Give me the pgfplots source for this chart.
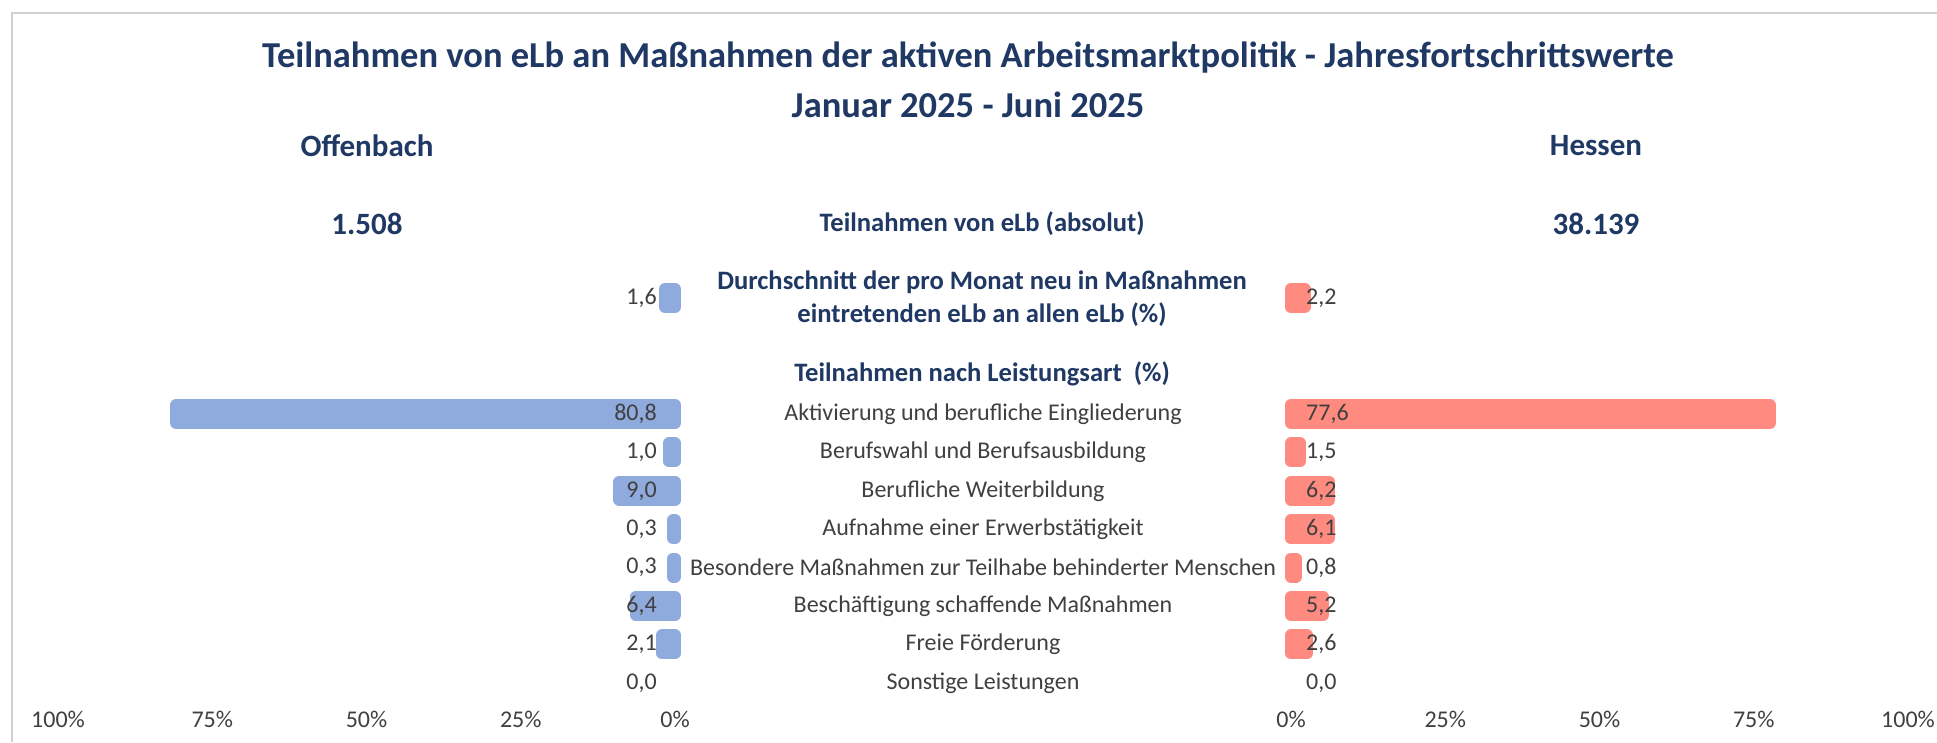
\documentclass[border=0pt]{standalone}
\usepackage{pgfplots}
\pgfplotsset{compat=1.18}
\usepackage{fontspec}
\setmainfont{Carlito}
\definecolor{navy}{HTML}{1F3864}
\definecolor{lbl}{HTML}{404040}
\definecolor{barblue}{HTML}{8FAADC}
\definecolor{barred}{HTML}{FF8A80}
\definecolor{frame}{HTML}{D0D0D0}

\pgfplotsset{
  halfaxis/.style={
    scale only axis, width=617pt, height=742pt,
    ymin=0, ymax=742,
    clip=false,
    axis line style={draw=none}, tick style={draw=none},
    ytick=\empty,
    xticklabel style={anchor=center, yshift=23pt, text=lbl, font=\fontsize{24}{28}\selectfont},
  },
  hbar/.style={xbar, bar width=18pt, fill=#1, draw=#1, line width=12pt, line join=round},
  vallab/.style={draw=none, mark=none, nodes near coords, point meta=explicit symbolic,
    nodes near coords style={text=lbl, font=\fontsize{24}{28}\selectfont, inner sep=0pt, #1}},
}

\begin{document}
\begin{tikzpicture}[x=1pt,y=1pt]
\useasboundingbox (0pt,0pt) rectangle (1937pt,742pt);
\fill[white] (0pt,0pt) rectangle (1937pt,742pt);
\draw[frame, line width=2pt] (12pt,0pt) -- (12pt,729pt) -- (1937pt,729pt);

% left axis (Offenbach)
\begin{axis}[halfaxis, at={(58pt,0pt)}, anchor=south west,
  xmin=-100, xmax=0,
  xtick={-100,-75,-50,-25,0},
  xticklabels={100\%,75\%,50\%,25\%,0\%}]
\addplot[hbar=barblue] table[x=v,y=y] {
v y
-1.6 444
-80.8 328
-1.0 289.6
-9.0 251.2
-0.3 212.8
-0.3 174.4
-6.4 136
-2.1 97.6
};
\addplot[vallab={anchor=east, xshift=-18pt}] table[x=x,y=y,meta=l] {
x y l
0 444 1,6
0 328 80,8
0 289.6 1,0
0 251.2 9,0
0 212.8 0,3
0 174.4 0,3
0 136 6,4
0 97.6 2,1
0 59.2 0,0
};
\end{axis}

% right axis (Hessen)
\begin{axis}[halfaxis, at={(1291pt,0pt)}, anchor=south west,
  xmin=0, xmax=100,
  xtick={0,25,50,75,100},
  xticklabels={0\%,25\%,50\%,75\%,100\%}]
\addplot[hbar=barred] table[x=v,y=y] {
v y
2.2 444
77.6 328
1.5 289.6
6.2 251.2
6.1 212.8
0.8 174.4
5.2 136
2.6 97.6
};
\addplot[vallab={anchor=west, xshift=15pt}] table[x=x,y=y,meta=l] {
x y l
0 444 2,2
0 328 77,6
0 289.6 1,5
0 251.2 6,2
0 212.8 6,1
0 174.4 0,8
0 136 5,2
0 97.6 2,6
0 59.2 0,0
};
\end{axis}

% titles
\begin{scope}[every node/.style={text=navy, font=\bfseries\fontsize{36.5}{40}\selectfont}]
\node at (968pt,684pt) {Teilnahmen von eLb an Maßnahmen der aktiven Arbeitsmarktpolitik - Jahresfortschrittswerte};
\node at (968pt,637pt) {Januar 2025 - Juni 2025};
\end{scope}
\begin{scope}[every node/.style={text=navy, font=\bfseries\fontsize{31}{34}\selectfont}]
\node at (367pt,596pt) {Offenbach};
\node at (1596pt,596pt) {Hessen};
\node at (367pt,518pt) {1.508};
\node at (1596pt,518pt) {38.139};
\end{scope}
\begin{scope}[every node/.style={text=navy, font=\bfseries\fontsize{26.6}{33}\selectfont, align=center}]
\node at (982pt,518pt) {Teilnahmen von eLb (absolut)};
\node at (982pt,443.5pt) {Durchschnitt der pro Monat neu in Maßnahmen\\eintretenden eLb an allen eLb (\%)};
\node at (982pt,368pt) {Teilnahmen nach Leistungsart\ \ (\%)};
\end{scope}
\begin{scope}[every node/.style={text=lbl, font=\fontsize{24}{28}\selectfont}]
\node at (983pt,328pt) {Aktivierung und berufliche Eingliederung};
\node at (983pt,289.6pt) {Berufswahl und Berufsausbildung};
\node at (983pt,251.2pt) {Berufliche Weiterbildung};
\node at (983pt,212.8pt) {Aufnahme einer Erwerbstätigkeit};
\node at (983pt,174.4pt) {Besondere Maßnahmen zur Teilhabe behinderter Menschen};
\node at (983pt,136pt) {Beschäftigung schaffende Maßnahmen};
\node at (983pt,97.6pt) {Freie Förderung};
\node at (983pt,59.2pt) {Sonstige Leistungen};
\end{scope}
\end{tikzpicture}
\end{document}
